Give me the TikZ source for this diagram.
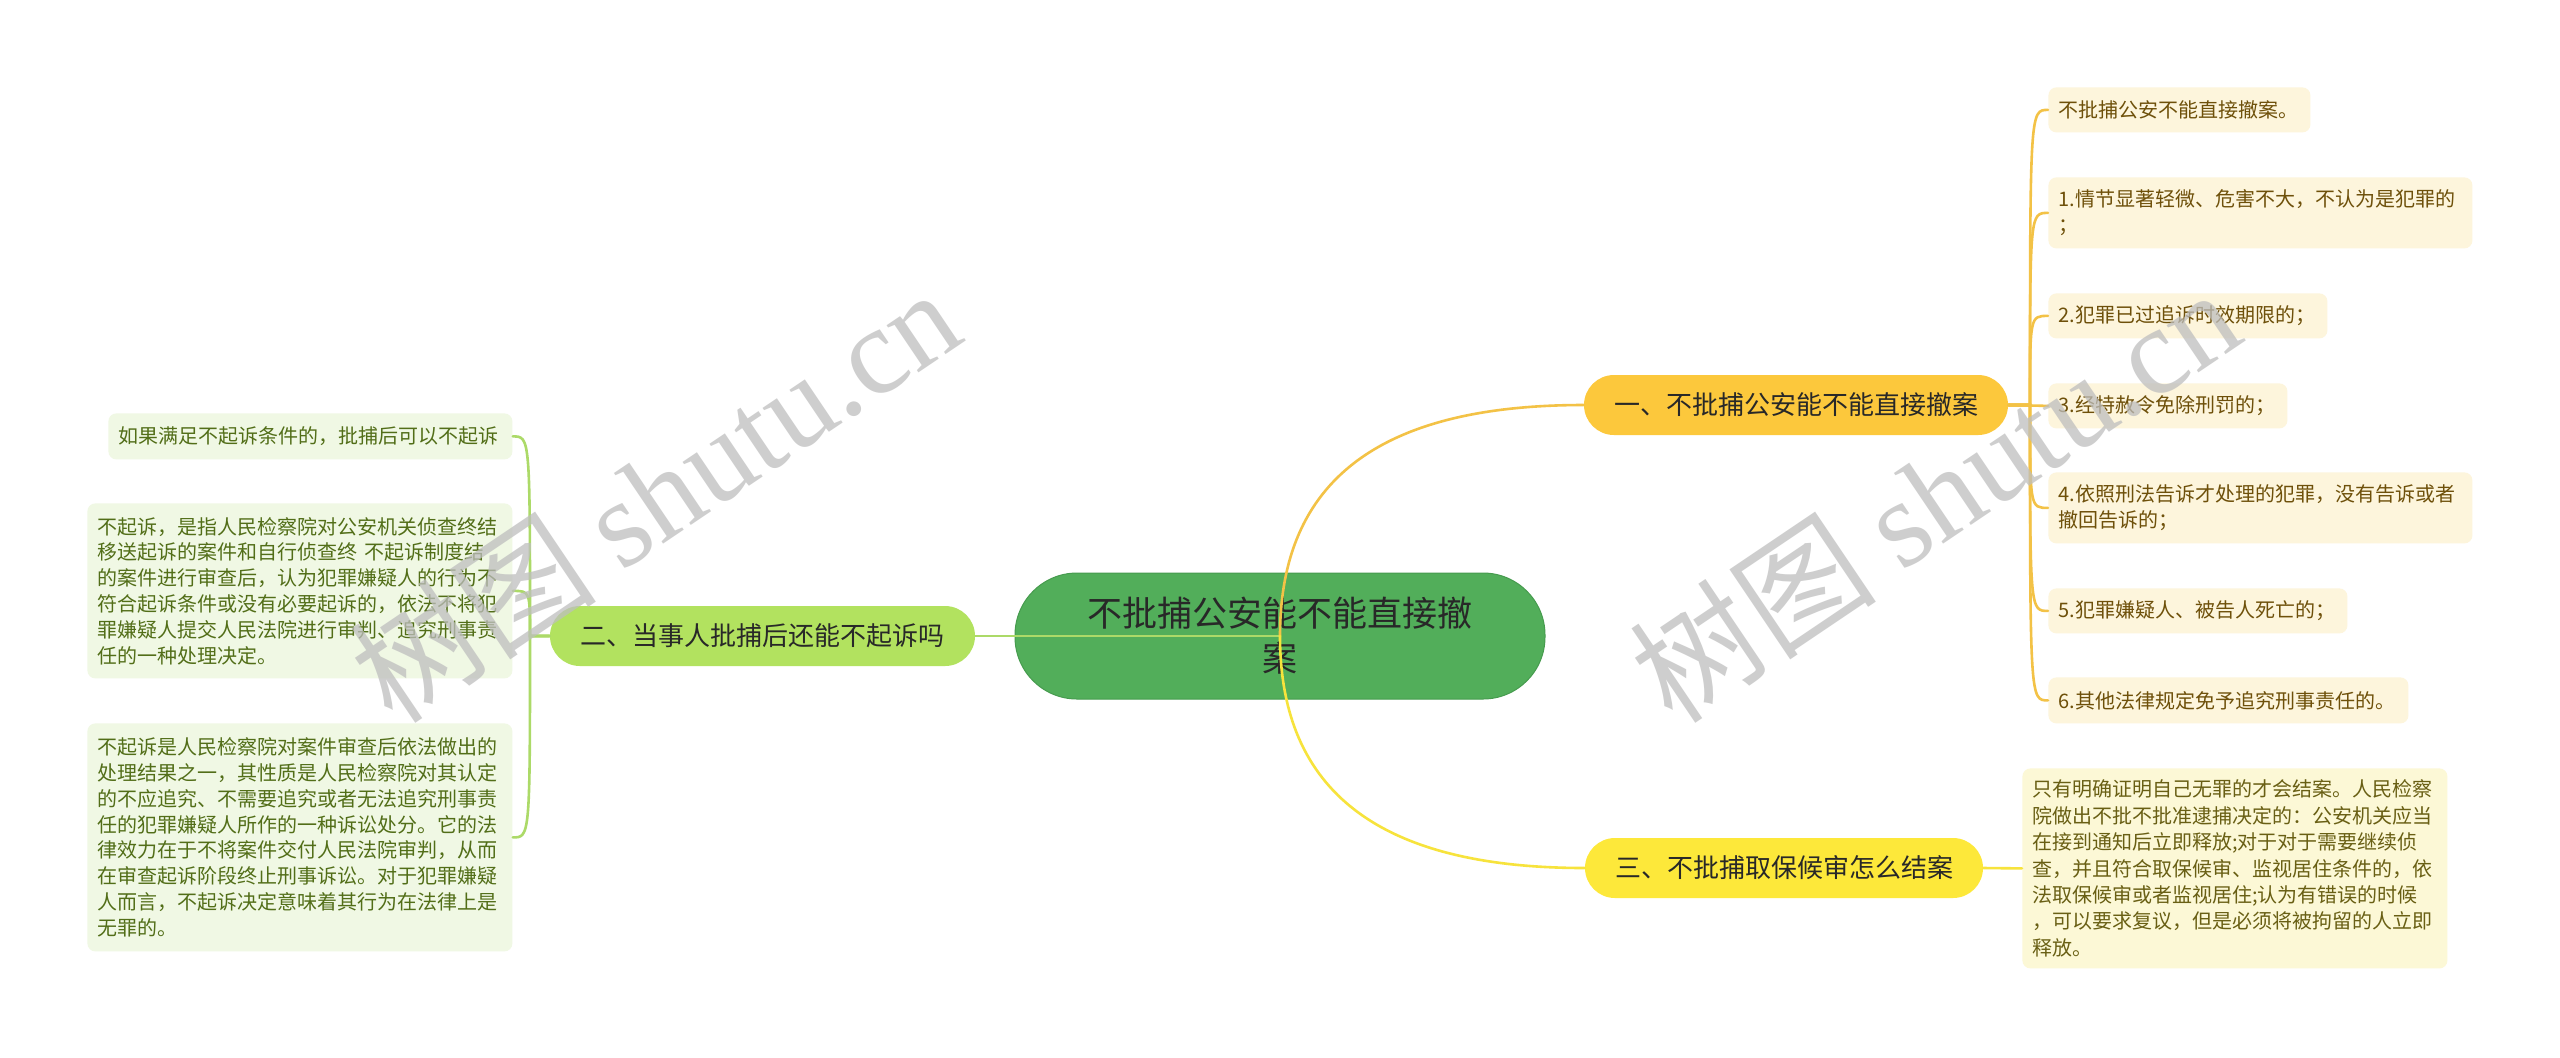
\documentclass[tikz,border=0pt]{standalone}
\usepackage{fontspec}
\setmainfont{Noto Sans CJK SC}
\newfontfamily\wmlatin{Liberation Serif}
\definecolor{cgreen}{RGB}{82,174,90}
\definecolor{cgreenborder}{RGB}{70,155,78}
\definecolor{byellowA}{RGB}{252,200,60}
\definecolor{byellowC}{RGB}{253,232,58}
\definecolor{bgreen}{RGB}{178,226,95}
\definecolor{tdark}{RGB}{40,40,40}
\definecolor{lfill}{RGB}{240,248,228}
\definecolor{ltext}{RGB}{82,110,24}
\definecolor{rfill}{RGB}{253,245,220}
\definecolor{rtext}{RGB}{110,80,10}
\definecolor{r7fill}{RGB}{252,248,214}
\definecolor{r7text}{RGB}{105,95,20}
\definecolor{lineA}{RGB}{243,194,70}
\definecolor{lineC}{RGB}{247,227,60}
\definecolor{lineG}{RGB}{172,218,104}
\definecolor{wmgray}{RGB}{190,190,190}
\begin{document}
\begin{tikzpicture}[x=0.5pt,y=-0.5pt,
  every node/.style={inner sep=0pt},
  central/.style={rectangle, rounded corners=31pt, fill=cgreen, draw=cgreenborder, line width=0.5pt,
    minimum width=265pt, minimum height=63pt, align=center, text=tdark,
    font=\fontsize{17.5}{22.5}\selectfont},
  branch/.style={rectangle, rounded corners=15pt, minimum height=30pt, text=tdark,
    font=\fontsize{13}{16}\selectfont},
  leafL/.style={rectangle, rounded corners=4pt, fill=lfill, text=ltext, inner xsep=5pt, inner ysep=0pt,
    anchor=north west, align=left, font=\fontsize{10}{12.9}\selectfont},
  leafR/.style={rectangle, rounded corners=4pt, fill=rfill, text=rtext, inner xsep=5pt, inner ysep=0pt,
    anchor=north west, align=left, font=\fontsize{10}{12.9}\selectfont},
  leafRs/.style={rectangle, rounded corners=4pt, fill=r7fill, text=r7text, inner xsep=5pt, inner ysep=0pt,
    anchor=north west, align=left, font=\fontsize{10}{13.2}\selectfont},
  conn/.style={line width=1.3pt, line cap=round},
  wm/.style={text=wmgray, text opacity=0.75, font=\fontsize{62}{70}\selectfont}
]
\fill[white] (0,0) rectangle (2560,1057);
\useasboundingbox (0,0) rectangle (2560,1057);

% central and branches
\node[central] (c) at (1280,636) {不批捕公安能不能直接撤\\案};
\node[branch, fill=byellowA, minimum width=212pt] (b1) at (1796,405) {一、不批捕公安能不能直接撤案};
\node[branch, fill=bgreen, minimum width=212.5pt] (b2) at (762.5,636) {二、当事人批捕后还能不起诉吗};
\node[branch, fill=byellowC, minimum width=199pt] (b3) at (1784,868) {三、不批捕取保候审怎么结案};

% left leaves
\node[leafL, text width=192pt, minimum height=23pt] (l1) at (108,413) {如果满足不起诉条件的，批捕后可以不起诉};
\node[leafL, text width=202.5pt, minimum height=87.5pt] (l2) at (87,503) {不起诉，是指人民检察院对公安机关侦查终结\\移送起诉的案件和自行侦查终 不起诉制度结\\的案件进行审查后，认为犯罪嫌疑人的行为不\\符合起诉条件或没有必要起诉的，依法不将犯\\罪嫌疑人提交人民法院进行审判、追究刑事责\\任的一种处理决定。};
\node[leafL, text width=202.5pt, minimum height=114pt] (l3) at (87,723) {不起诉是人民检察院对案件审查后依法做出的\\处理结果之一，其性质是人民检察院对其认定\\的不应追究、不需要追究或者无法追究刑事责\\任的犯罪嫌疑人所作的一种诉讼处分。它的法\\律效力在于不将案件交付人民法院审判，从而\\在审查起诉阶段终止刑事诉讼。对于犯罪嫌疑\\人而言，不起诉决定意味着其行为在法律上是\\无罪的。};

% right leaves
\node[leafR, text width=121pt, minimum height=22.5pt] (r0) at (2048,87) {不批捕公安不能直接撤案。};
\node[leafR, text width=202pt, minimum height=35.5pt] (r1) at (2048,177) {1.情节显著轻微、危害不大，不认为是犯罪的\\；};
\node[leafR, text width=129.5pt, minimum height=22.5pt] (r2) at (2048,293) {2.犯罪已过追诉时效期限的；};
\node[leafR, text width=109.5pt, minimum height=22.5pt] (r3) at (2048,383) {3.经特赦令免除刑罚的；};
\node[leafR, text width=202pt, minimum height=35.5pt] (r4) at (2048,472) {4.依照刑法告诉才处理的犯罪，没有告诉或者\\撤回告诉的；};
\node[leafR, text width=139.5pt, minimum height=22.5pt] (r5) at (2048,588) {5.犯罪嫌疑人、被告人死亡的；};
\node[leafR, text width=170pt, minimum height=23pt] (r6) at (2048,677) {6.其他法律规定免予追究刑事责任的。};
\node[leafRs, text width=202.5pt, minimum height=100pt] (r7) at (2022,768) {只有明确证明自己无罪的才会结案。人民检察\\院做出不批不批准逮捕决定的：公安机关应当\\在接到通知后立即释放;对于对于需要继续侦\\查，并且符合取保候审、监视居住条件的，依\\法取保候审或者监视居住;认为有错误的时候\\，可以要求复议，但是必须将被拘留的人立即\\释放。};

% spine points
\coordinate (sL) at (530,636);
\coordinate (sR) at (2030,405);

% connectors from central
\draw[conn, lineG] (c.center) -- (b2.east);
\draw[conn, lineA] (c.center) .. controls (1280,480) and (1380,405) .. (b1.west);
\draw[conn, lineC] (c.center) .. controls (1280,792) and (1380,868) .. (b3.west);

% left branch
\draw[conn, lineG] (b2.west) -- (sL) .. controls (sL |- l1.east) .. (l1.east);
\draw[conn, lineG] (b2.west) -- (sL) .. controls (sL |- l2.east) .. (l2.east);
\draw[conn, lineG] (b2.west) -- (sL) .. controls (sL |- l3.east) .. (l3.east);

% right branch (一)
\draw[conn, lineA] (b1.east) -- (sR) .. controls (sR |- r0.west) .. (r0.west);
\draw[conn, lineA] (b1.east) -- (sR) .. controls (sR |- r1.west) .. (r1.west);
\draw[conn, lineA] (b1.east) -- (sR) .. controls (sR |- r2.west) .. (r2.west);
\draw[conn, lineA] (b1.east) -- (r3.west);
\draw[conn, lineA] (b1.east) -- (sR) .. controls (sR |- r4.west) .. (r4.west);
\draw[conn, lineA] (b1.east) -- (sR) .. controls (sR |- r5.west) .. (r5.west);
\draw[conn, lineA] (b1.east) -- (sR) .. controls (sR |- r6.west) .. (r6.west);

% branch 三
\draw[conn, lineC] (b3.east) -- (r7.west);

% watermarks
\node[wm, anchor=base west, rotate=34] (wm1) at (393,727) {树图 {\wmlatin shutu.cn}};
\node[wm, anchor=base west, rotate=34] (wm2) at (1673,727) {树图 {\wmlatin shutu.cn}};
\end{tikzpicture}
\end{document}
